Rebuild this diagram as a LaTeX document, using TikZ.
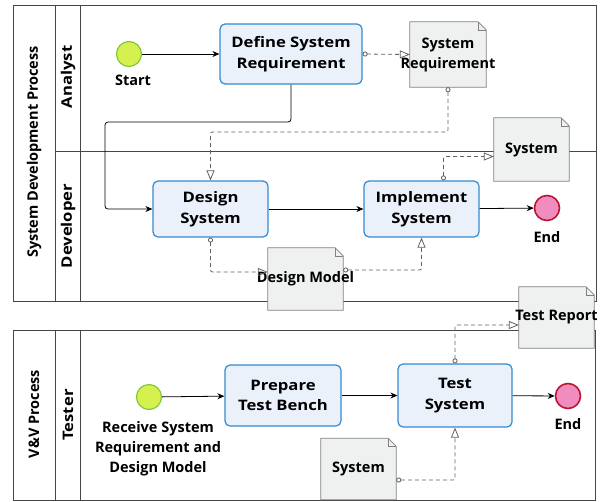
\documentclass[tikz,border=0pt]{standalone}
\usepackage{fontspec}
\setmainfont{Open Sans}
\newfontfamily\widefont{Open Sans}[FakeStretch=1.15]
\usetikzlibrary{arrows.meta}
\pgfdeclarelayer{poollayer}
\pgfdeclarelayer{doclayer}
\pgfsetlayers{poollayer,doclayer,main}
\definecolor{taskblue}{RGB}{52,138,208}
\definecolor{taskfill}{RGB}{234,241,251}
\definecolor{docfill}{RGB}{238,241,240}
\definecolor{docline}{RGB}{128,128,128}
\definecolor{poolline}{RGB}{70,70,70}
\definecolor{startfill}{RGB}{214,240,80}
\definecolor{startline}{RGB}{130,200,60}
\definecolor{endfill}{RGB}{240,140,190}
\definecolor{endline}{RGB}{190,20,50}
\definecolor{assocline}{RGB}{96,96,96}
\newcommand{\ovl}[1]{\makebox[0pt]{#1}}
\begin{document}
\begin{tikzpicture}[x=1pt,y=-1pt,
  every node/.style={font=\fontsize{14.5}{20}\selectfont\bfseries, align=center, inner sep=0pt},
  task/.style={draw=taskblue, fill=taskfill, rounded corners=5pt, line width=1.2pt,
    font=\widefont\fontsize{14.5}{20.5}\selectfont\bfseries},
  docnode/.style={rectangle, minimum width=75pt},
  startev/.style={circle, draw=startline, fill=startfill, line width=1.2pt, minimum size=25pt},
  endev/.style={circle, draw=endline, fill=endfill, line width=1.6pt, minimum size=25pt},
  flow/.style={draw=black, line width=0.8pt, -{Stealth[length=7pt,width=6pt]}},
  assoc/.style={draw=assocline, line width=0.8pt, dash pattern=on 4pt off 3pt,
    {Circle[open,length=5pt,width=5pt]}-{Triangle[open,length=10pt,width=8pt]}},
  poolstyle/.style={draw=poolline, line width=0.8pt},
  docshape/.style={draw=docline, fill=docfill, line width=0.8pt},
  poollabel/.style={rotate=90},
  lanelabel/.style={rotate=90, font=\widefont\fontsize{14.5}{20}\selectfont\bfseries}
]
\useasboundingbox (0,0) rectangle (607,501);

% pools
\begin{pgfonlayer}{poollayer}
  \draw[poolstyle] (13,5) rectangle (596,301);
  \draw[poolstyle] (55,5) -- (55,301) (80,5) -- (80,301) (55,151) -- (596,151);
  \draw[poolstyle] (13,330) rectangle (595,500);
  \draw[poolstyle] (55,330) -- (55,500) (80,330) -- (80,500);
\end{pgfonlayer}

\node[poollabel] (poolA) at (34,152) {System Development Process};
\node[lanelabel] (laneAnalyst) at (68,77) {Analyst};
\node[lanelabel] (laneDev) at (68,226) {Developer};
\node[poollabel] (poolB) at (34,414) {V\&V Process};
\node[lanelabel] (laneTester) at (68,415) {Tester};

% events
\node[startev] (start1) at (129,54) {};
\node (startlbl) at (133,80) {Start};
\node[endev] (end1) at (547,208) {};
\node (endlbl1) at (547,237) {End};
\node[startev] (start2) at (149,397) {};
\node (startlbl2) at (158,449) {Receive System\\Requirement and\\Design Model};
\node[endev] (end2) at (568,396) {};
\node (endlbl2) at (568,424) {End};

% tasks
\node[task, minimum width=142pt, minimum height=60pt] (define) at (291,54) {Define System\\Requirement};
\node[task, minimum width=115pt, minimum height=56pt] (design) at (210.5,209) {Design\\System};
\node[task, minimum width=115pt, minimum height=56pt] (implement) at (421.5,209) {Implement\\System};
\node[task, minimum width=116pt, minimum height=61pt] (prepare) at (283,395.5) {Prepare\\Test Bench};
\node[task, minimum width=114pt, minimum height=63pt] (test) at (455,395.5) {Test\\System};

% documents
\node[docnode, minimum width=76pt, minimum height=65pt] (sysreq) at (448,54.5) {\ovl{System}\\\ovl{Requirement}};
\node[docnode, minimum height=63pt] (sys1) at (531.5,149.5) {\ovl{System}};
\node[docnode, minimum height=62pt] (dmodel) at (305.5,279) {\raisebox{-4pt}{\ovl{Design Model}}};
\node[docnode, minimum height=61pt] (trep) at (556.5,317.5) {\raisebox{2pt}{\ovl{Test Report}}};
\node[docnode, minimum height=61pt] (sys2) at (358.5,469) {\raisebox{-3pt}{\ovl{System}}};

\begin{pgfonlayer}{doclayer}
  \foreach \n in {sysreq,sys1,dmodel,trep,sys2}{
    \draw[docshape] (\n.north west) -- ([xshift=-8pt]\n.north east)
      -- ([yshift=-8pt]\n.north east) -- (\n.south east) -- (\n.south west) -- cycle;
    \draw[docline, line width=0.5pt] ([xshift=-8pt]\n.north east) -- ([xshift=-8pt,yshift=-8pt]\n.north east)
      -- ([yshift=-8pt]\n.north east);
  }
\end{pgfonlayer}

% sequence flows
\coordinate (c1) at (105,122);
\draw[flow] (start1) -- (define);
\draw[flow, rounded corners=3pt] (define.south) |- (c1) |- (design.west);
\draw[flow] (design) -- (implement);
\draw[flow] (implement) -- (end1);
\draw[flow] (start2) -- (prepare);
\draw[flow] (prepare) -- (test);
\draw[flow] (test) -- (end2);

% associations
\coordinate (c2) at (300,132);
\draw[assoc] (define.east) -- (sysreq.west);
\draw[assoc, rounded corners=2pt] (sysreq.south) -- (sysreq.south |- c2) -| (design.north);
\draw[assoc, rounded corners=2pt] ([xshift=22pt]implement.north) |- ([yshift=-7pt]sys1.west);
\draw[assoc, rounded corners=2pt] (design.south) |- ([yshift=7pt]dmodel.west);
\draw[assoc, rounded corners=2pt] ([yshift=9pt]dmodel.east) -| (implement.south);
\draw[assoc, rounded corners=2pt] (test.north) |- ([yshift=-7.5pt]trep.west);
\draw[assoc, rounded corners=2pt] ([yshift=-11pt]sys2.east) -| (test.south);
\end{tikzpicture}
\end{document}
